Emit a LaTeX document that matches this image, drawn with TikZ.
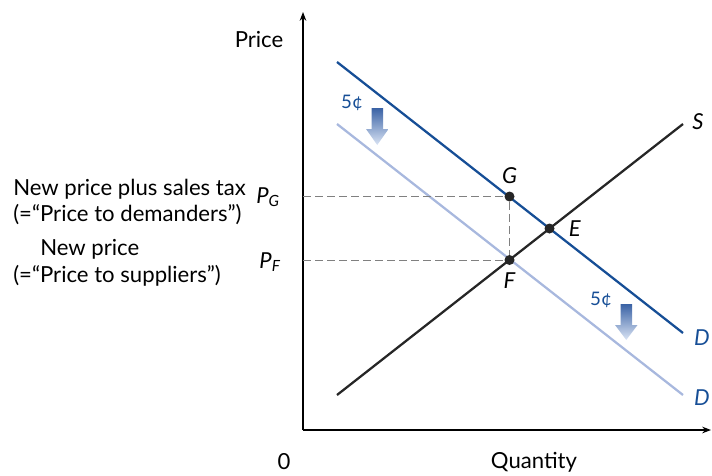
\documentclass[tikz,border=0pt]{standalone}
\usepackage{fontspec}
\setmainfont{Lato}
\usetikzlibrary{positioning,arrows.meta}
\definecolor{demblue}{RGB}{22,78,150}
\definecolor{demlight}{RGB}{168,184,222}
\definecolor{arrtop}{RGB}{58,98,165}
\definecolor{arrbot}{RGB}{218,228,244}

\begin{document}
\begin{tikzpicture}[
    x=0.75pt, y=-0.75pt,
    font=\fontsize{16.6}{19}\selectfont,
    >=Stealth,
    curve/.style={line width=1.7pt},
    axis/.style={->, line width=0.8pt},
    dot/.style={circle, fill=black!85, inner sep=0pt, minimum size=7.5pt},
    guide/.style={gray, line width=0.6pt, dash pattern=on 6pt off 3pt},
    lbl/.style={font=\fontsize{16.5}{19}\selectfont\itshape},
    shiftarrow/.style={top color=arrtop, bottom color=arrbot, draw=none},
  ]
    \useasboundingbox (0,0) rectangle (712,475);

    % axes
    \coordinate (origin) at (303,430);
    \coordinate (ytop) at (303,12);
    \coordinate (xend) at (711,430);
    \draw[axis] (origin) -- (ytop);
    \draw[axis] (origin) -- (xend);
    \node (price) at (259,40) {Price};
    \node (zero) at (284,462) {0};
    \node (qty) at (534,462) {Quantity};

    % curves
    \coordinate (d1a) at (337,62);
    \coordinate (d1b) at (683,333);
    \coordinate (d2a) at (337,124);
    \coordinate (d2b) at (683,395);
    \coordinate (sa) at (337,395);
    \coordinate (sb) at (683,124);
    \draw[curve, demlight] (d2a) -- (d2b);
    \draw[curve, demblue] (d1a) -- (d1b);
    \draw[curve, black!85] (sa) -- (sb);
    \node[lbl, demblue] (dold) at (702,338) {D};
    \node[lbl, demblue] (dnew) at (702,398) {D};
    \node[lbl] (slbl) at (698,122) {S};

    % points
    \node[dot] (G) at (509.5,196.5) {};
    \node[dot] (E) at (549.5,228.5) {};
    \node[dot] (F) at (509.5,260) {};
    \node[lbl, above=2pt of G] (glbl) {G};
    \node[lbl, right=7pt of E] (elbl) {E};
    \node[lbl, below=2pt of F] (flbl) {F};

    % guides
    \draw[guide] (origin |- G) -- (G);
    \draw[guide] (origin |- F) -- (F);
    \draw[guide] (G) -- (F);

    % price labels
    \node[lbl] (pg) at (268,197) {P\textsubscript{G}};
    \node[lbl] (pf) at (270,262) {P\textsubscript{F}};
    \node[anchor=base west, inner sep=0pt] (tax1) at (13,195) {New price plus sales tax};
    \node[anchor=base west, inner sep=0pt] (tax2) at (13,221) {(=“Price to demanders”)};
    \node[anchor=base west, inner sep=0pt] (new1) at (40,255) {New price};
    \node[anchor=base west, inner sep=0pt] (new2) at (13,282) {(=“Price to suppliers”)};

    % tax shift
    \shade[shiftarrow] (371.5,108) -- (383,108) -- (383,129) -- (388.5,129) -- (377.25,145) -- (366,129) -- (371.5,129) -- cycle;
    \shade[shiftarrow] (620.5,304) -- (632,304) -- (632,325) -- (637.5,325) -- (626.25,340) -- (615,325) -- (620.5,325) -- cycle;
    \node[demblue, font=\fontsize{14}{16}\selectfont] (cent1) at (352,103) {5¢};
    \node[demblue, font=\fontsize{14}{16}\selectfont] (cent2) at (601,300) {5¢};
  \end{tikzpicture}
\end{document}
